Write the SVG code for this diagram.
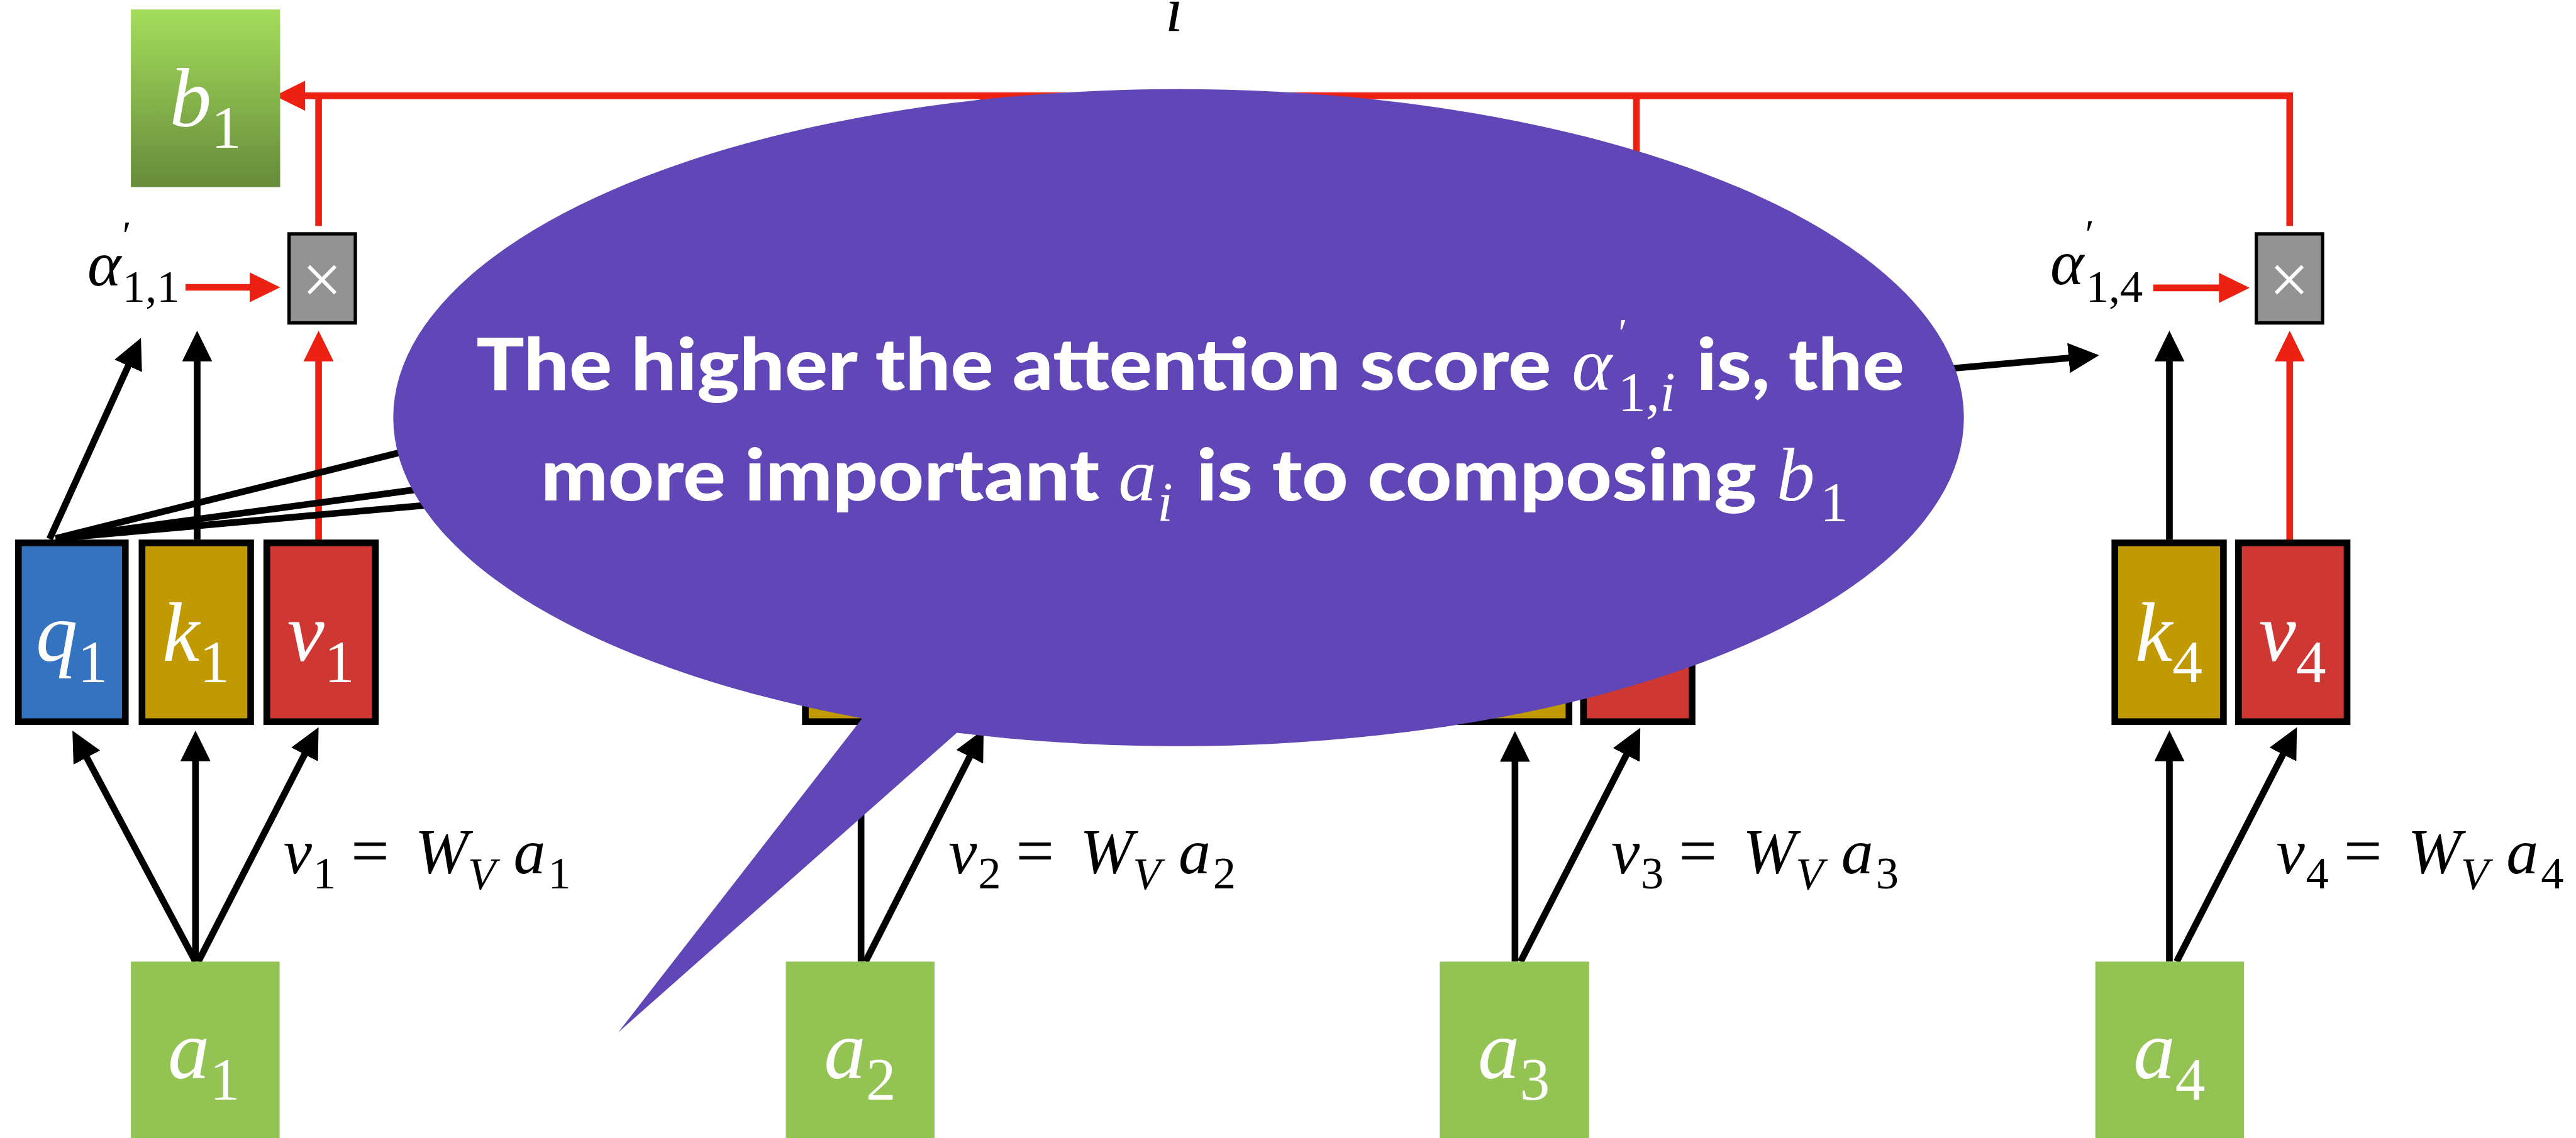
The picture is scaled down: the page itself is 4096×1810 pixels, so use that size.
<svg xmlns="http://www.w3.org/2000/svg" width="4096" height="1810" viewBox="0 0 4096 1810">
<defs>
<linearGradient id="gb" x1="0" y1="0" x2="0" y2="1">
<stop offset="0" stop-color="#A4DD5C"/>
<stop offset="1" stop-color="#668B3A"/>
</linearGradient>
<marker id="ab" markerUnits="userSpaceOnUse" viewBox="0 0 55 54" refX="15" refY="27" markerWidth="55" markerHeight="54" orient="auto"><path d="M0,0 L55,27 L0,54 Z" fill="#000"/></marker>
<marker id="ar" markerUnits="userSpaceOnUse" viewBox="0 0 55 54" refX="15" refY="27" markerWidth="55" markerHeight="54" orient="auto"><path d="M0,0 L55,27 L0,54 Z" fill="#ED2111"/></marker>
<style>
.vb{stroke:#000;stroke-width:12}
.q{fill:#3373BF}.k{fill:#C09A00}.v{fill:#CF3733}
.a{fill:#93C353}
.mx{fill:#939393;stroke:#000;stroke-width:6}
.nl{font-family:"Liberation Serif","Times New Roman",serif;font-style:italic;font-size:150px;fill:#fff}
.ns{font-style:normal;font-size:108px}
.cb{stroke:#000;stroke-width:12;fill:none}
.cr{stroke:#ED2111;stroke-width:12;fill:none}
.m{font-family:"Liberation Serif","Times New Roman",serif;font-style:italic;font-size:115px;fill:#000}
.ms{font-size:82px}
.up{font-style:normal}
.pr{font-style:normal;font-size:72px}
.x{font-family:"Liberation Serif",serif;font-size:128px;fill:#fff}
.ct{font-family:Lato,"Open Sans",sans-serif;font-weight:900;font-size:130px;fill:#fff}
.cm{font-family:"Liberation Serif","Times New Roman",serif;font-style:italic;font-size:137px;fill:#fff}
.cs{font-size:100px}
</style>
</defs>
<g transform="scale(0.88562)">
<text id="sum-index" class="m" x="2092" y="56" font-size="95">i</text>

<g id="connectors">
<path class="cr" d="M4111,406 V172 H533" marker-end="url(#ar)"/>
<path class="cr" d="M572,406 V172"/>
<path class="cr" d="M1765,406 V172"/>
<path class="cr" d="M2938,406 V172"/>
<path class="cr" d="M333,516 H463" marker-end="url(#ar)"/>
<path class="cr" d="M3866,517 H3999" marker-end="url(#ar)"/>
<path class="cb" d="M89,968 L236.5,643.4" marker-end="url(#ab)"/>
<path class="cb" d="M354,969 V634" marker-end="url(#ab)"/>
<path class="cr" d="M572,969 V634" marker-end="url(#ar)"/>
<path class="cb" d="M3895,969 V634" marker-end="url(#ab)"/>
<path class="cr" d="M4111,969 V634" marker-end="url(#ar)"/>
<path class="cb" d="M100,967 L1410,640" marker-end="url(#ab)"/>
<path class="cb" d="M100,967 L2585,630" marker-end="url(#ab)"/>
<path class="cb" d="M100,967 L3729,641.6" marker-end="url(#ab)"/>
<path class="cb" d="M351,1727 L148.8,1347.3" marker-end="url(#ab)"/>
<path class="cb" d="M351,1727 V1352" marker-end="url(#ab)"/>
<path class="cb" d="M356,1727 L553.7,1341.6" marker-end="url(#ab)"/>
<path class="cb" d="M1546,1727 V1352" marker-end="url(#ab)"/>
<path class="cb" d="M1554,1727 L1747.9,1345.7" marker-end="url(#ab)"/>
<path class="cb" d="M2720,1727 V1353" marker-end="url(#ab)"/>
<path class="cb" d="M2730,1727 L2926.8,1342.6" marker-end="url(#ab)"/>
<path class="cb" d="M3895,1727 V1352" marker-end="url(#ab)"/>
<path class="cb" d="M3908,1727 L4105.7,1341.6" marker-end="url(#ab)"/>
</g>

<g id="b1"><rect x="235" y="17" width="268" height="319" fill="url(#gb)"/><text class="nl" x="369" y="227" text-anchor="middle">b<tspan class="ns" dy="38">1</tspan></text></g>

<g id="mul1"><rect class="mx" x="519" y="420" width="119" height="160"/><text class="x" x="578" y="545" text-anchor="middle">×</text></g>
<g id="mul4"><rect class="mx" x="4051" y="420" width="119" height="160"/><text class="x" x="4110" y="545" text-anchor="middle">×</text></g>

<g id="alpha11"><text class="m" x="157" y="513">α<tspan class="pr" x="220" y="447">′</tspan><tspan class="ms up" x="220" y="542">1,1</tspan></text></g>
<g id="alpha14"><text class="m" x="3681" y="510">α<tspan class="pr" x="3744" y="445">′</tspan><tspan class="ms up" x="3745" y="542">1,4</tspan></text></g>

<g id="q1"><rect class="vb q" x="33" y="975" width="192" height="321"/><text class="nl" x="129" y="1187" text-anchor="middle">q<tspan class="ns" dy="38">1</tspan></text></g>
<g id="k1"><rect class="vb k" x="255" y="975" width="195" height="321"/><text class="nl" x="352" y="1187" text-anchor="middle">k<tspan class="ns" dy="38">1</tspan></text></g>
<g id="v1"><rect class="vb v" x="479" y="975" width="195" height="321"/><text class="nl" x="576" y="1187" text-anchor="middle">v<tspan class="ns" dy="38">1</tspan></text></g>
<g id="k2"><rect class="vb k" x="1446" y="975" width="195" height="321"/></g>
<g id="v2"><rect class="vb v" x="1668" y="975" width="195" height="321"/></g>
<g id="k3"><rect class="vb k" x="2622" y="975" width="195" height="321"/></g>
<g id="v3"><rect class="vb v" x="2843" y="975" width="195" height="321"/></g>
<g id="k4"><rect class="vb k" x="3797" y="975" width="195" height="321"/><text class="nl" x="3894" y="1187" text-anchor="middle">k<tspan class="ns" dy="38">4</tspan></text></g>
<g id="v4"><rect class="vb v" x="4019" y="975" width="195" height="321"/><text class="nl" x="4116" y="1187" text-anchor="middle">v<tspan class="ns" dy="38">4</tspan></text></g>

<g id="a1"><rect class="a" x="235" y="1727" width="267" height="330"/><text class="nl" x="366" y="1936" text-anchor="middle">a<tspan class="ns" dy="39">1</tspan></text></g>
<g id="a2"><rect class="a" x="1411" y="1727" width="267" height="330"/><text class="nl" x="1544" y="1936" text-anchor="middle">a<tspan class="ns" dy="39">2</tspan></text></g>
<g id="a3"><rect class="a" x="2585" y="1727" width="268" height="330"/><text class="nl" x="2718" y="1936" text-anchor="middle">a<tspan class="ns" dy="39">3</tspan></text></g>
<g id="a4"><rect class="a" x="3762" y="1727" width="267" height="330"/><text class="nl" x="3895" y="1936" text-anchor="middle">a<tspan class="ns" dy="39">4</tspan></text></g>

<g id="eq1"><text class="m" y="1568"><tspan x="509">v</tspan><tspan class="ms up" x="562" y="1596">1</tspan><tspan class="up" x="630" y="1568" font-size="122">=</tspan><tspan x="745">W</tspan><tspan class="ms" x="840" y="1597">V</tspan><tspan x="922" y="1568">a</tspan><tspan class="ms up" x="984" y="1596">1</tspan></text></g>
<g id="eq2"><text class="m" y="1568"><tspan x="1703">v</tspan><tspan class="ms up" x="1756" y="1596">2</tspan><tspan class="up" x="1824" y="1568" font-size="122">=</tspan><tspan x="1939">W</tspan><tspan class="ms" x="2034" y="1597">V</tspan><tspan x="2116" y="1568">a</tspan><tspan class="ms up" x="2178" y="1596">2</tspan></text></g>
<g id="eq3"><text class="m" y="1568"><tspan x="2893">v</tspan><tspan class="ms up" x="2946" y="1596">3</tspan><tspan class="up" x="3014" y="1568" font-size="122">=</tspan><tspan x="3129">W</tspan><tspan class="ms" x="3224" y="1597">V</tspan><tspan x="3306" y="1568">a</tspan><tspan class="ms up" x="3368" y="1596">3</tspan></text></g>
<g id="eq4"><text class="m" y="1568"><tspan x="4087">v</tspan><tspan class="ms up" x="4140" y="1596">4</tspan><tspan class="up" x="4208" y="1568" font-size="122">=</tspan><tspan x="4323">W</tspan><tspan class="ms" x="4418" y="1597">V</tspan><tspan x="4500" y="1568">a</tspan><tspan class="ms up" x="4562" y="1596">4</tspan></text></g>

<g id="callout">
<path d="M1718,1316 L1110,1854 L1548,1290 A1410,590 0 1,1 1718,1316 Z" fill="#6046B6"/>
<text class="ct" x="855" y="700" textLength="1930" lengthAdjust="spacingAndGlyphs">The higher the attention score</text>
<text class="cm" x="2822" y="700">α<tspan class="pr" x="2906" y="622" font-size="94">′</tspan><tspan class="cs up" x="2905" y="737">1,</tspan><tspan class="cs" y="737">i</tspan></text>
<text class="ct" x="3046" y="700" textLength="373" lengthAdjust="spacingAndGlyphs">is, the</text>
<text class="ct" x="971" y="899" textLength="1003" lengthAdjust="spacingAndGlyphs">more important</text>
<text class="cm" x="2008" y="899">a<tspan class="cs" x="2078" y="935">i</tspan></text>
<text class="ct" x="2148" y="899" textLength="1006" lengthAdjust="spacingAndGlyphs">is to composing</text>
<text class="cm" x="3190" y="899">b<tspan class="cs up" x="3268" y="935">1</tspan></text>
</g>
</g>
</svg>
